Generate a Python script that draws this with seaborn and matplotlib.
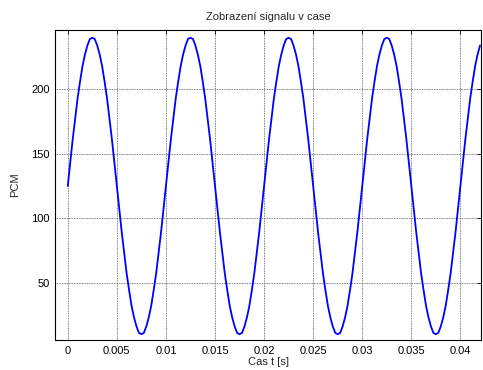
import numpy as np
import pandas as pd
import matplotlib
matplotlib.use("Agg")
import matplotlib.pyplot as plt
import seaborn as sns

# PCM samples (one sample every 0.25 ms, 100 Hz tone)
fs = 4000
pcm = [
    125, 143, 161, 177, 193, 206, 218, 227, 234, 239, 240, 239, 234, 227, 218, 206, 193, 177, 161, 143,
    125, 107, 89, 73, 57, 44, 32, 23, 16, 11, 10, 11, 16, 23, 32, 44, 57, 73, 89, 107,
    125, 143, 161, 177, 193, 206, 218, 227, 234, 239, 240, 239, 234, 227, 218, 206, 193, 177, 161, 143,
    125, 107, 89, 73, 57, 44, 32, 23, 16, 11, 10, 11, 16, 23, 32, 44, 57, 73, 89, 107,
    125, 143, 161, 177, 193, 206, 218, 227, 234, 239, 240, 239, 234, 227, 218, 206, 193, 177, 161, 143,
    125, 107, 89, 73, 57, 44, 32, 23, 16, 11, 10, 11, 16, 23, 32, 44, 57, 73, 89, 107,
    125, 143, 161, 177, 193, 206, 218, 227, 234, 239, 240, 239, 234, 227, 218, 206, 193, 177, 161, 143,
    125, 107, 89, 73, 57, 44, 32, 23, 16, 11, 10, 11, 16, 23, 32, 44, 57, 73, 89, 107,
    125, 143, 161, 177, 193, 206, 218, 227, 234,
]
xticks = [0, 0.005, 0.01, 0.015, 0.02, 0.025, 0.03, 0.035, 0.04]
xlabels = ["0", "0.005", "0.01", "0.015", "0.02", "0.025", "0.03", "0.035", "0.04"]
yticks = [50, 100, 150, 200]

df = pd.DataFrame({"t": np.arange(len(pcm)) / fs, "pcm": pcm})

sns.set_style("white")
plt.rcParams["font.family"] = ["Liberation Sans", "DejaVu Sans"]

fig = plt.figure(figsize=(4.83, 3.70), dpi=100)
ax = fig.add_axes([0.1139, 0.0811, 0.8820, 0.8378])

sns.lineplot(data=df, x="t", y="pcm", color="#0000ff", linewidth=1.3, ax=ax)

ax.set_xlim(-0.0013, 0.0421)
ax.set_ylim(5.5, 246)
ax.set_xticks(xticks)
ax.set_xticklabels(xlabels)
ax.set_yticks(yticks)
ax.grid(True, color="#555555", linestyle=(0, (1, 1)), linewidth=0.6)
ax.tick_params(direction="in", length=3, width=0.6, top=True, right=True,
               labelsize=8, colors="black", pad=4)
for s in ax.spines.values():
    s.set_color("black")
    s.set_linewidth(0.8)

ax.set_title("Zobrazení signalu v case", fontsize=8, pad=7)
ax.set_xlabel("Cas t [s]", fontsize=8, labelpad=1)
ax.set_ylabel("PCM", fontsize=8, labelpad=8)

fig.savefig("out.png", dpi=100)
